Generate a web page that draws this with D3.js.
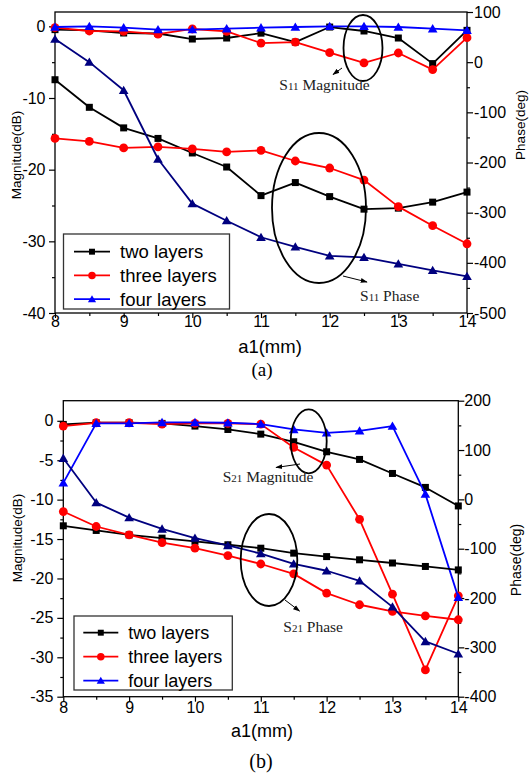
<!DOCTYPE html>
<html>
<head>
<meta charset="utf-8">
<script src="https://cdn.jsdelivr.net/npm/d3@7"></script>
<style>
  body { margin: 0; background: #fff; }
  svg { display: block; }
</style>
</head>
<body>
<svg id="fig" width="530" height="779"></svg>
<script>
// Slot width a1 (mm) shared by both panels
const a1 = [8, 8.5, 9, 9.5, 10, 10.5, 11, 11.5, 12, 12.5, 13, 13.5, 14];
const seriesNames = ["two layers", "three layers", "four layers"];

// Panel (a): S11 magnitude (dB) and phase (deg)
const s11MagTwo   = [-0.46, -0.56, -0.93, -1.0, -1.77, -1.63, -0.95, -2.2, -0.1, -0.65, -1.63, -5.2, -0.56];
const s11MagThree = [-0.18, -0.65, -0.7, -1.1, -0.37, -0.7, -2.33, -2.2, -3.67, -5.1, -3.72, -6.04, -1.58];
const s11MagFour  = [-0.09, 0, -0.19, -0.46, -0.46, -0.33, -0.19, -0.09, 0, 0, -0.09, -0.33, -0.56];
const s11PhTwo    = [-35, -90, -131, -152, -181, -209, -266, -240, -268, -293, -291, -279, -259];
const s11PhThree  = [-152, -158, -171, -169, -173, -179, -176, -197, -211, -235, -288, -326, -362];
const s11PhFour   = [46, 0, -56, -193, -282, -316, -349, -368, -386, -389, -402, -415, -427];

// Panel (b): S21 magnitude (dB) and phase (deg)
const s21MagTwo   = [-0.46, -0.25, -0.25, -0.33, -0.67, -1.1, -1.69, -2.66, -3.93, -4.9, -6.68, -8.45, -10.8];
const s21MagThree = [-0.67, -0.25, -0.25, -0.42, -0.33, -0.33, -0.42, -3.38, -5.62, -12.5, -22.0, -31.6, -22.2];
const s21MagFour  = [-7.87, -0.33, -0.33, -0.21, -0.21, -0.25, -0.42, -1.1, -1.52, -1.27, -0.67, -9.3, -22.4];
const s21PhTwo    = [-53.6, -63, -72, -78.6, -85, -92, -99, -109, -116, -122.5, -129, -136, -143];
const s21PhThree  = [-24.7, -55, -72, -87.5, -99, -114, -131, -151, -190, -213.6, -227, -236, -244];
const s21PhFour   = [83.4, -6.5, -37, -60, -78.6, -93.5, -110, -130.6, -144.7, -165, -218, -288, -313];

// Tick values
const xTicks = [8, 9, 10, 11, 12, 13, 14];
const xMinor = [8.5, 9.5, 10.5, 11.5, 12.5, 13.5];
const aMagTicks = [0, -10, -20, -30, -40];
const aMagMinor = [-5, -15, -25, -35];
const aPhTicks = [100, 0, -100, -200, -300, -400, -500];
const aPhMinor = [50, -50, -150, -250, -350, -450];
const bMagTicks = [0, -5, -10, -15, -20, -25, -30, -35];
const bMagMinor = [-2.5, -7.5, -12.5, -17.5, -22.5, -27.5, -32.5];
const bPhTicks = [200, 100, 0, -100, -200, -300, -400];
const bPhMinor = [150, 50, -50, -150, -250, -350];

const SANS = "'Liberation Sans', Arial, sans-serif";
const SERIF = "'Liberation Serif', 'Times New Roman', serif";
const magColors = ["#000000", "#ff0000", "#0000ff"];
const phColors = ["#000000", "#ff0000", "#00007f"];
const shapes = ["square", "circle", "triangle"];

const svg = d3.select("#fig");

function marker(g, shape, color, cx, cy, scale) {
  const s = scale || 1;
  if (shape === "square") {
    g.append("rect").attr("x", cx - 3.5 * s).attr("y", cy - 3.5 * s)
      .attr("width", 7 * s).attr("height", 7 * s).attr("fill", color);
  } else if (shape === "circle") {
    g.append("circle").attr("cx", cx).attr("cy", cy).attr("r", 4.4 * s).attr("fill", color);
  } else {
    const h = 4.6 * s;
    g.append("path")
      .attr("d", `M${cx},${cy - h}L${cx + h * 1.05},${cy + h * 0.8}L${cx - h * 1.05},${cy + h * 0.8}Z`)
      .attr("fill", color);
  }
}

function drawSeries(g, x, y, vals, color, shape) {
  const pts = a1.map((d, i) => [x(d), y(vals[i])]);
  g.append("path").attr("d", d3.line()(pts)).attr("fill", "none")
    .attr("stroke", color).attr("stroke-width", 1.8).attr("stroke-linejoin", "round");
  const mg = g.append("g");
  pts.forEach(p => marker(mg, shape, color, p[0], p[1]));
}

function styleAxis(sel, size) {
  sel.selectAll("path.domain").remove();
  sel.selectAll("line").attr("stroke", "#000").attr("stroke-width", 1.2);
  sel.selectAll("text").attr("font-family", SANS).attr("font-size", size).attr("fill", "#000");
}

function drawPanel(p) {
  const g = svg.append("g");
  const x = d3.scaleLinear().domain([8, 14]).range([p.left, p.right]);
  const yL = d3.scaleLinear().domain(p.magDomain).range([p.bottom, p.top]);
  const yR = d3.scaleLinear().domain(p.phDomain).range([p.bottom, p.top]);
  const fmt = d => String(d);

  // axes with major and minor ticks
  g.append("g").attr("transform", `translate(0,${p.bottom})`)
    .call(d3.axisBottom(x).tickValues(xTicks).tickFormat(fmt).tickSize(5).tickPadding(p.xPad))
    .call(s => styleAxis(s, p.tickFont));
  g.append("g").attr("transform", `translate(0,${p.bottom})`)
    .call(d3.axisBottom(x).tickValues(xMinor).tickFormat("").tickSize(3))
    .call(s => styleAxis(s, p.tickFont));
  g.append("g").attr("transform", `translate(${p.left},0)`)
    .call(d3.axisLeft(yL).tickValues(p.magTicks).tickFormat(fmt).tickSize(6).tickPadding(p.lPad))
    .call(s => styleAxis(s, p.tickFont));
  g.append("g").attr("transform", `translate(${p.left},0)`)
    .call(d3.axisLeft(yL).tickValues(p.magMinor).tickFormat("").tickSize(3))
    .call(s => styleAxis(s, p.tickFont));
  g.append("g").attr("transform", `translate(${p.right},0)`)
    .call(d3.axisRight(yR).tickValues(p.phTicks).tickFormat(fmt).tickSize(6).tickPadding(p.rPad))
    .call(s => styleAxis(s, p.tickFont));
  g.append("g").attr("transform", `translate(${p.right},0)`)
    .call(d3.axisRight(yR).tickValues(p.phMinor).tickFormat("").tickSize(3))
    .call(s => styleAxis(s, p.tickFont));

  // plot frame
  g.append("rect").attr("x", p.left).attr("y", p.top)
    .attr("width", p.right - p.left).attr("height", p.bottom - p.top)
    .attr("fill", "none").attr("stroke", "#000").attr("stroke-width", 1.3);

  // data: magnitude on the left axis, phase on the right axis
  const plot = g.append("g");
  for (let i = 0; i < 3; i++) {
    drawSeries(plot, x, yL, p.mag[i], magColors[i], shapes[i]);
  }
  for (let i = 0; i < 3; i++) {
    drawSeries(plot, x, yR, p.ph[i], phColors[i], shapes[i]);
  }

  // annotation ellipses with arrows and labels
  p.notes.forEach(n => {
    g.append("ellipse").attr("cx", n.cx).attr("cy", n.cy).attr("rx", n.rx).attr("ry", n.ry)
      .attr("fill", "none").attr("stroke", "#000").attr("stroke-width", 1.8);
    g.append("line").attr("x1", n.ax1).attr("y1", n.ay1).attr("x2", n.ax2).attr("y2", n.ay2)
      .attr("stroke", "#000").attr("stroke-width", 1).attr("marker-end", "url(#arrowHead)");
    const t = g.append("text").attr("x", n.tx).attr("y", n.ty)
      .attr("font-family", SERIF).attr("font-size", 15.5).attr("fill", "#222");
    t.append("tspan").text("S");
    t.append("tspan").attr("font-size", 11).text(n.sub);
    t.append("tspan").text(" " + n.word);
  });

  // legend
  const lg = g.append("g");
  lg.append("rect").attr("x", p.legend.x).attr("y", p.legend.y)
    .attr("width", p.legend.w).attr("height", p.legend.h)
    .attr("fill", "#fff").attr("stroke", "#333").attr("stroke-width", 1.3);
  seriesNames.forEach((name, i) => {
    const yy = p.legend.y + p.legend.row0 + i * p.legend.step;
    lg.append("line").attr("x1", p.legend.lx1).attr("x2", p.legend.lx2)
      .attr("y1", yy).attr("y2", yy).attr("stroke", magColors[i]).attr("stroke-width", 1.8);
    marker(lg, shapes[i], magColors[i], (p.legend.lx1 + p.legend.lx2) / 2, yy, 0.85);
    lg.append("text").attr("x", p.legend.tx).attr("y", yy).attr("dy", "0.35em")
      .attr("font-family", SANS).attr("font-size", p.legendFont).attr("fill", "#000").text(name);
  });

  // axis titles
  g.append("text")
    .attr("transform", `translate(${p.magTitle.x},${p.magTitle.y}) rotate(-90)`)
    .attr("text-anchor", "middle").attr("font-family", SANS).attr("font-size", p.magTitle.size)
    .text("Magnitude(dB)");
  g.append("text")
    .attr("transform", `translate(${p.phTitle.x},${p.phTitle.y}) rotate(-90)`)
    .attr("text-anchor", "middle").attr("font-family", SANS).attr("font-size", p.phTitle.size)
    .text("Phase(deg)");
  g.append("text").attr("x", p.xTitle.x).attr("y", p.xTitle.y)
    .attr("text-anchor", "middle").attr("font-family", SANS).attr("font-size", p.xTitle.size)
    .text("a1(mm)");
  g.append("text").attr("x", p.caption.x).attr("y", p.caption.y)
    .attr("text-anchor", "middle").attr("font-family", SERIF).attr("font-size", p.caption.size)
    .text(p.caption.text);
}

svg.append("defs").append("marker")
  .attr("id", "arrowHead").attr("viewBox", "0 0 10 10").attr("refX", 9).attr("refY", 5)
  .attr("markerWidth", 7).attr("markerHeight", 7).attr("orient", "auto")
  .append("path").attr("d", "M0,1.5L10,5L0,8.5Z").attr("fill", "#000");

drawPanel({
  left: 55, right: 467, top: 12, bottom: 313,
  magDomain: [-40, 2], phDomain: [-500, 100],
  magTicks: aMagTicks, magMinor: aMagMinor, phTicks: aPhTicks, phMinor: aPhMinor,
  mag: [s11MagTwo, s11MagThree, s11MagFour],
  ph: [s11PhTwo, s11PhThree, s11PhFour],
  tickFont: 16, legendFont: 18.5, xPad: -2, lPad: 3.5, rPad: 1,
  legend: { x: 63.5, y: 234, w: 166, h: 75, row0: 17.7, step: 23.7, lx1: 74, lx2: 110, tx: 120 },
  magTitle: { x: 21, y: 155, size: 13.5 },
  phTitle: { x: 525, y: 125, size: 13.5 },
  xTitle: { x: 270, y: 353, size: 18.5 },
  caption: { x: 262, y: 376, size: 19, text: "(a)" },
  notes: [
    { cx: 363, cy: 48, rx: 19.5, ry: 33, ax1: 342, ay1: 68, ax2: 333, ay2: 74.5, tx: 279.3, ty: 90, sub: "11", word: "Magnitude" },
    { cx: 319, cy: 208, rx: 47, ry: 75, ax1: 343, ay1: 276, ax2: 367, ay2: 282, tx: 360, ty: 300.7, sub: "11", word: "Phase" }
  ]
});

drawPanel({
  left: 63.3, right: 458.3, top: 400.7, bottom: 696.7,
  magDomain: [-35, 2.55], phDomain: [-400, 200],
  magTicks: bMagTicks, magMinor: bMagMinor, phTicks: bPhTicks, phMinor: bPhMinor,
  mag: [s21MagTwo, s21MagThree, s21MagFour],
  ph: [s21PhTwo, s21PhThree, s21PhFour],
  tickFont: 16, legendFont: 18, xPad: 0, lPad: 4, rPad: 0,
  legend: { x: 74, y: 616, w: 158.3, h: 74, row0: 16.7, step: 24, lx1: 83.3, lx2: 118.3, tx: 128.3 },
  magTitle: { x: 22, y: 538, size: 13.5 },
  phTitle: { x: 521, y: 560, size: 14 },
  xTitle: { x: 262, y: 737, size: 18 },
  caption: { x: 261, y: 768, size: 20, text: "(b)" },
  notes: [
    { cx: 308.7, cy: 441.3, rx: 18, ry: 32, ax1: 300, ay1: 464, ax2: 276, ay2: 467.5, tx: 222.7, ty: 481.7, sub: "21", word: "Magnitude" },
    { cx: 269, cy: 560, rx: 28.3, ry: 46, ax1: 285, ay1: 600, ax2: 299.5, ay2: 611, tx: 283.3, ty: 631.7, sub: "21", word: "Phase" }
  ]
});
</script>
</body>
</html>
